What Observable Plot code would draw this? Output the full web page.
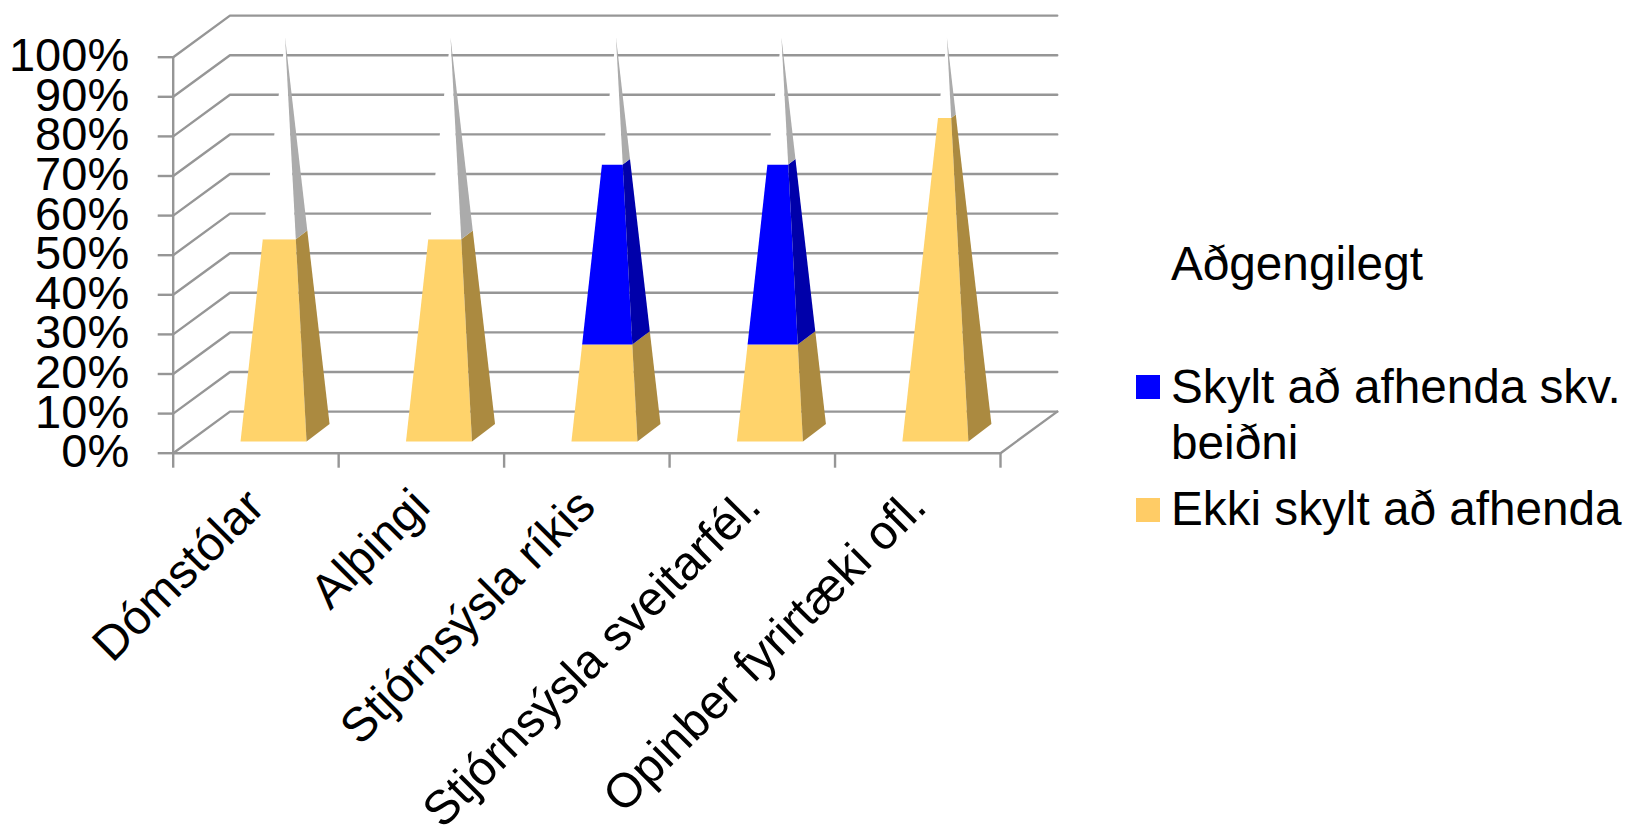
<!DOCTYPE html>
<html>
<head>
<meta charset="utf-8">
<script src="https://cdn.jsdelivr.net/npm/d3@7"></script>
<script src="https://cdn.jsdelivr.net/npm/@observablehq/plot@0.6"></script>
<style>
html,body{margin:0;padding:0;background:#fff;overflow:hidden}
#wrap{position:relative;width:1631px;height:828px;font-family:"Liberation Sans",Arial,sans-serif;color:#000;filter:blur(0.5px)}
#legend div{position:absolute;left:1171px;font-size:47.7px;line-height:56px;white-space:nowrap}
#legend i{position:absolute;left:1136px;width:24px;height:24px;display:block}
</style>
</head>
<body>
<div id="wrap"></div>
<script>
const categories = ["Dómstólar", "Alþingi", "Stjórnsýsla ríkis", "Stjórnsýsla sveitarfél.", "Opinber fyrirtæki ofl."];
const ekkiSkylt = [50, 50, 24, 24, 80];
const skylt = [0, 0, 44.5, 44.5, 0];
const adgengilegt = [50, 50, 31.5, 31.5, 20];
const yTicks = d3.range(0, 101, 10);
const seriesNames = ["Ekki skylt að afhenda", "Skylt að afhenda skv. beiðni", "Aðgengilegt"];
const frontColors = ["#FFD36B", "#0000FF", "#FFFFFF"];
const sideColors = ["#AB8A40", "#0000AA", "#ABABAB"];

// oblique projection of the 3-D chart, in data units
const depthX = 0.343, depthY = 10.5;
const base = {left: 0.407, right: 0.806, backX: 0.945, backY: 7.37, frontY: 2.95};
const apex = {x: 0.676, y: 105.05};

const grid = [];
for (const v of yTicks) {
  grid.push({id: v, x: 0, y: v});
  grid.push({id: v, x: depthX, y: v + depthY});
  grid.push({id: v, x: categories.length + depthX, y: v + depthY});
}
const frame = [
  {id: "left", x: 0, y: 100}, {id: "left", x: 0, y: 0},
  {id: "left", x: categories.length, y: 0},
  {id: "left", x: categories.length + depthX, y: depthY}
];

const faces = [];
const lerp = (a, b, t) => a + (b - a) * t;
categories.forEach((c, i) => {
  const rows = [ekkiSkylt[i], skylt[i], adgengilegt[i]];
  let acc = 0;
  rows.forEach((v, s) => {
    if (!v) return;
    const t0 = acc / 100, t1 = (acc + v) / 100;
    acc += v;
    const corner = (cx, cy, t) => ({x: i + lerp(cx, apex.x, t), y: lerp(cy, apex.y, t)});
    const quad = (ax, ay, bx, by, fill, id) => [
      corner(ax, ay, t0), corner(bx, by, t0), corner(bx, by, t1), corner(ax, ay, t1)
    ].forEach(p => faces.push({...p, id, fill}));
    quad(base.left, base.frontY, base.right, base.frontY, frontColors[s], `f${i}-${s}`);
    quad(base.right, base.frontY, base.backX, base.backY, sideColors[s], `s${i}-${s}`);
  });
});

const chart = Plot.plot({
  width: 1631, height: 828,
  marginLeft: 172.7, marginRight: 631, marginTop: 56.7, marginBottom: 375.3,
  style: {fontFamily: '"Liberation Sans", Arial, sans-serif', background: "#fff", overflow: "visible"},
  x: {type: "linear", domain: [0, categories.length]},
  y: {domain: [0, 100]},
  color: {type: "identity"},
  marks: [
    Plot.line(grid, {x: "x", y: "y", z: "id", stroke: "#969696", strokeWidth: 2.4, curve: "linear"}),
    Plot.line(frame, {x: "x", y: "y", z: "id", stroke: "#969696", strokeWidth: 2.4}),
    Plot.axisY({ticks: yTicks, tickFormat: () => "", tickSize: 15, stroke: "#969696", strokeWidth: 2.4, label: null}),
    Plot.axisY({ticks: yTicks, tickFormat: d => d + "%", tickSize: 0, tickPadding: 44, fontSize: 47, dy: -1,
      stroke: "none", fill: "#000", label: null, lineAnchor: "middle"}),
    Plot.axisX({ticks: d3.range(0, categories.length + 1), tickFormat: () => "", tickSize: 15,
      stroke: "#969696", strokeWidth: 2.4, label: null}),
    Plot.axisX({ticks: categories.map((c, i) => i + 0.5), tickFormat: d => categories[d - 0.5],
      tickSize: 0, tickPadding: 45, tickRotate: -45, textAnchor: "end", lineAnchor: "middle",
      fontSize: 48, fill: "#000", stroke: "none", label: null}),
    Plot.line(faces, {x: "x", y: "y", z: "id", fill: "fill", stroke: "none", curve: "linear-closed"})
  ]
});

const wrap = document.getElementById("wrap");
wrap.appendChild(chart);
const legend = document.createElement("div");
legend.id = "legend";
legend.innerHTML = `
  <div style="top:236px">${seriesNames[2]}</div>
  <i style="top:375px;background:${frontColors[1]}"></i>
  <div style="top:359px">Skylt að afhenda skv.<br>beiðni</div>
  <i style="top:498px;background:#FFCC66"></i>
  <div style="top:481px">${seriesNames[0]}</div>`;
wrap.appendChild(legend);
</script>
</body>
</html>
